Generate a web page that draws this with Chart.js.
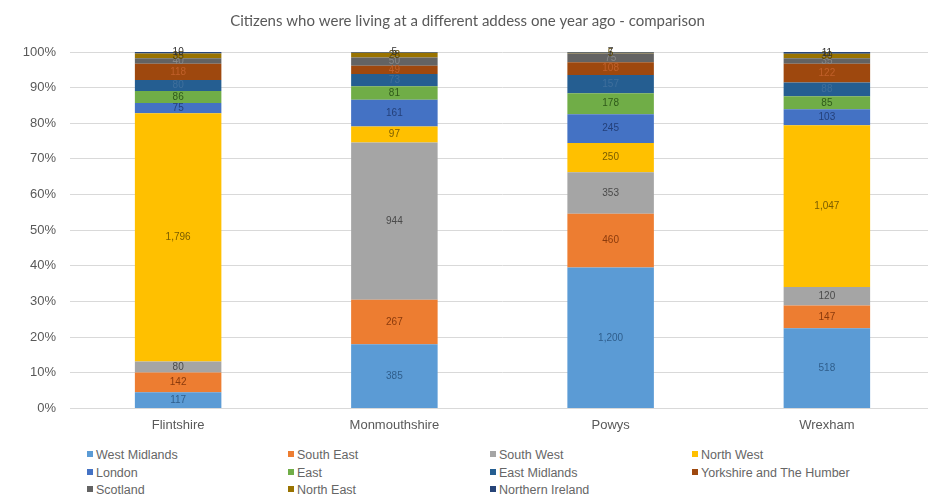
<!DOCTYPE html>
<html>
<head>
<meta charset="utf-8">
<script src="https://cdn.jsdelivr.net/npm/chart.js@4"></script>
<style>
    html, body { margin: 0; padding: 0; background: #fff; overflow: hidden; width: 928px; height: 504px; }
    #wrap { position: absolute; left: 0; top: 0; width: 935px; height: 434px; }
    #legend { position: absolute; left: 87px; top: 448px; font-family: "Liberation Sans", Arial, sans-serif;
              font-size: 12.5px; color: #666; display: grid; grid-template-columns: 201px 202px 202px 220px;
              row-gap: 2.5px; }
    #legend span.item { white-space: nowrap; height: 15px; line-height: 15px; }
    #legend span.box { display: inline-block; width: 6px; height: 6px; margin-right: 3px; vertical-align: 2px; }
</style>
</head>
<body>
<div id="wrap"><canvas id="chart" width="935" height="434"></canvas></div>
<div id="legend"></div>
<script>
const regions = ["Flintshire", "Monmouthshire", "Powys", "Wrexham"];

const westMidlands   = [117, 385, 1200, 518];
const southEast      = [142, 267, 460, 147];
const southWest      = [80, 944, 353, 120];
const northWest      = [1796, 97, 250, 1047];
const london         = [75, 161, 245, 103];
const east           = [86, 81, 178, 85];
const eastMidlands   = [80, 73, 157, 88];
const yorkshire      = [118, 49, 108, 122];
const scotland       = [40, 50, 75, 35];
const northEast      = [35, 28, 5, 30];
const northernIreland = [10, 5, 7, 11];

const seriesNames = ["West Midlands", "South East", "South West", "North West", "London", "East",
                     "East Midlands", "Yorkshire and The Humber", "Scotland", "North East", "Northern Ireland"];
const seriesValues = [westMidlands, southEast, southWest, northWest, london, east,
                      eastMidlands, yorkshire, scotland, northEast, northernIreland];
const seriesColors = ["#5B9BD5", "#ED7D31", "#A5A5A5", "#FFC000", "#4472C4", "#70AD47",
                      "#255E91", "#9E480E", "#636363", "#997300", "#264478"];
const labelColors  = ["#2F5E8C", "#8A3A0C", "#4A4A4A", "#7A5C00", "#24407A", "#2F5A1A",
                      "#3F6F9C", "#C0602A", "#888888", "#5A4500", "#333333"];

// totals per region, for the 100% stack
const totals = regions.map((r, i) => seriesValues.reduce((s, arr) => s + arr[i], 0));

const datasets = seriesNames.map((name, k) => ({
    label: name,
    data: seriesValues[k].map((v, i) => v / totals[i] * 100),
    raw: seriesValues[k],
    backgroundColor: seriesColors[k],
    labelColor: labelColors[k],
    borderWidth: 0,
    categoryPercentage: 1.0,
    barPercentage: 0.4
}));

const segmentLabels = {
    id: "segmentLabels",
    afterDatasetsDraw(chart)
    {
        const { ctx } = chart;
        ctx.save();
        ctx.font = "10px 'Liberation Sans', Arial, sans-serif";
        ctx.textAlign = "center";
        ctx.textBaseline = "middle";
        chart.data.datasets.forEach((ds, k) =>
        {
            const meta = chart.getDatasetMeta(k);
            meta.data.forEach((bar, i) =>
            {
                const y = (bar.y + bar.base) / 2;
                ctx.fillStyle = ds.labelColor;
                ctx.fillText(ds.raw[i].toLocaleString("en-US"), bar.x, y);
            });
        });
        ctx.restore();
    }
};

new Chart(document.getElementById("chart"), {
    type: "bar",
    data: { labels: regions, datasets: datasets },
    options: {
        responsive: false,
        animation: false,
        layout: { padding: { left: 0, right: 0, top: 0, bottom: 0 } },
        plugins: {
            legend: { display: false },
            tooltip: { enabled: false },
            title: {
                display: true,
                text: "Citizens who were living at a different addess one year ago - comparison",
                color: "#595959",
                font: { family: "Lato, 'Open Sans', sans-serif", size: 15, weight: "normal" },
                padding: { top: 12, bottom: 22 }
            }
        },
        scales: {
            x: {
                stacked: true,
                grid: { display: false },
                border: { color: "#d9d9d9" },
                ticks: { color: "#595959", font: { family: "'Liberation Sans', Arial, sans-serif", size: 13 }, padding: 1 }
            },
            y: {
                stacked: true,
                min: 0,
                max: 100,
                afterFit(scale) { scale.width = 70; },
                border: { display: false },
                grid: { color: "#d9d9d9", drawTicks: false },
                ticks: {
                    stepSize: 10,
                    padding: 14,
                    color: "#595959",
                    font: { family: "'Liberation Sans', Arial, sans-serif", size: 13 },
                    callback: v => v + "%"
                }
            }
        }
    },
    plugins: [segmentLabels]
});

const legendEl = document.getElementById("legend");
seriesNames.forEach((name, k) =>
{
    const item = document.createElement("span");
    item.className = "item";
    const box = document.createElement("span");
    box.className = "box";
    box.style.background = seriesColors[k];
    item.appendChild(box);
    item.appendChild(document.createTextNode(name));
    legendEl.appendChild(item);
});
</script>
</body>
</html>
